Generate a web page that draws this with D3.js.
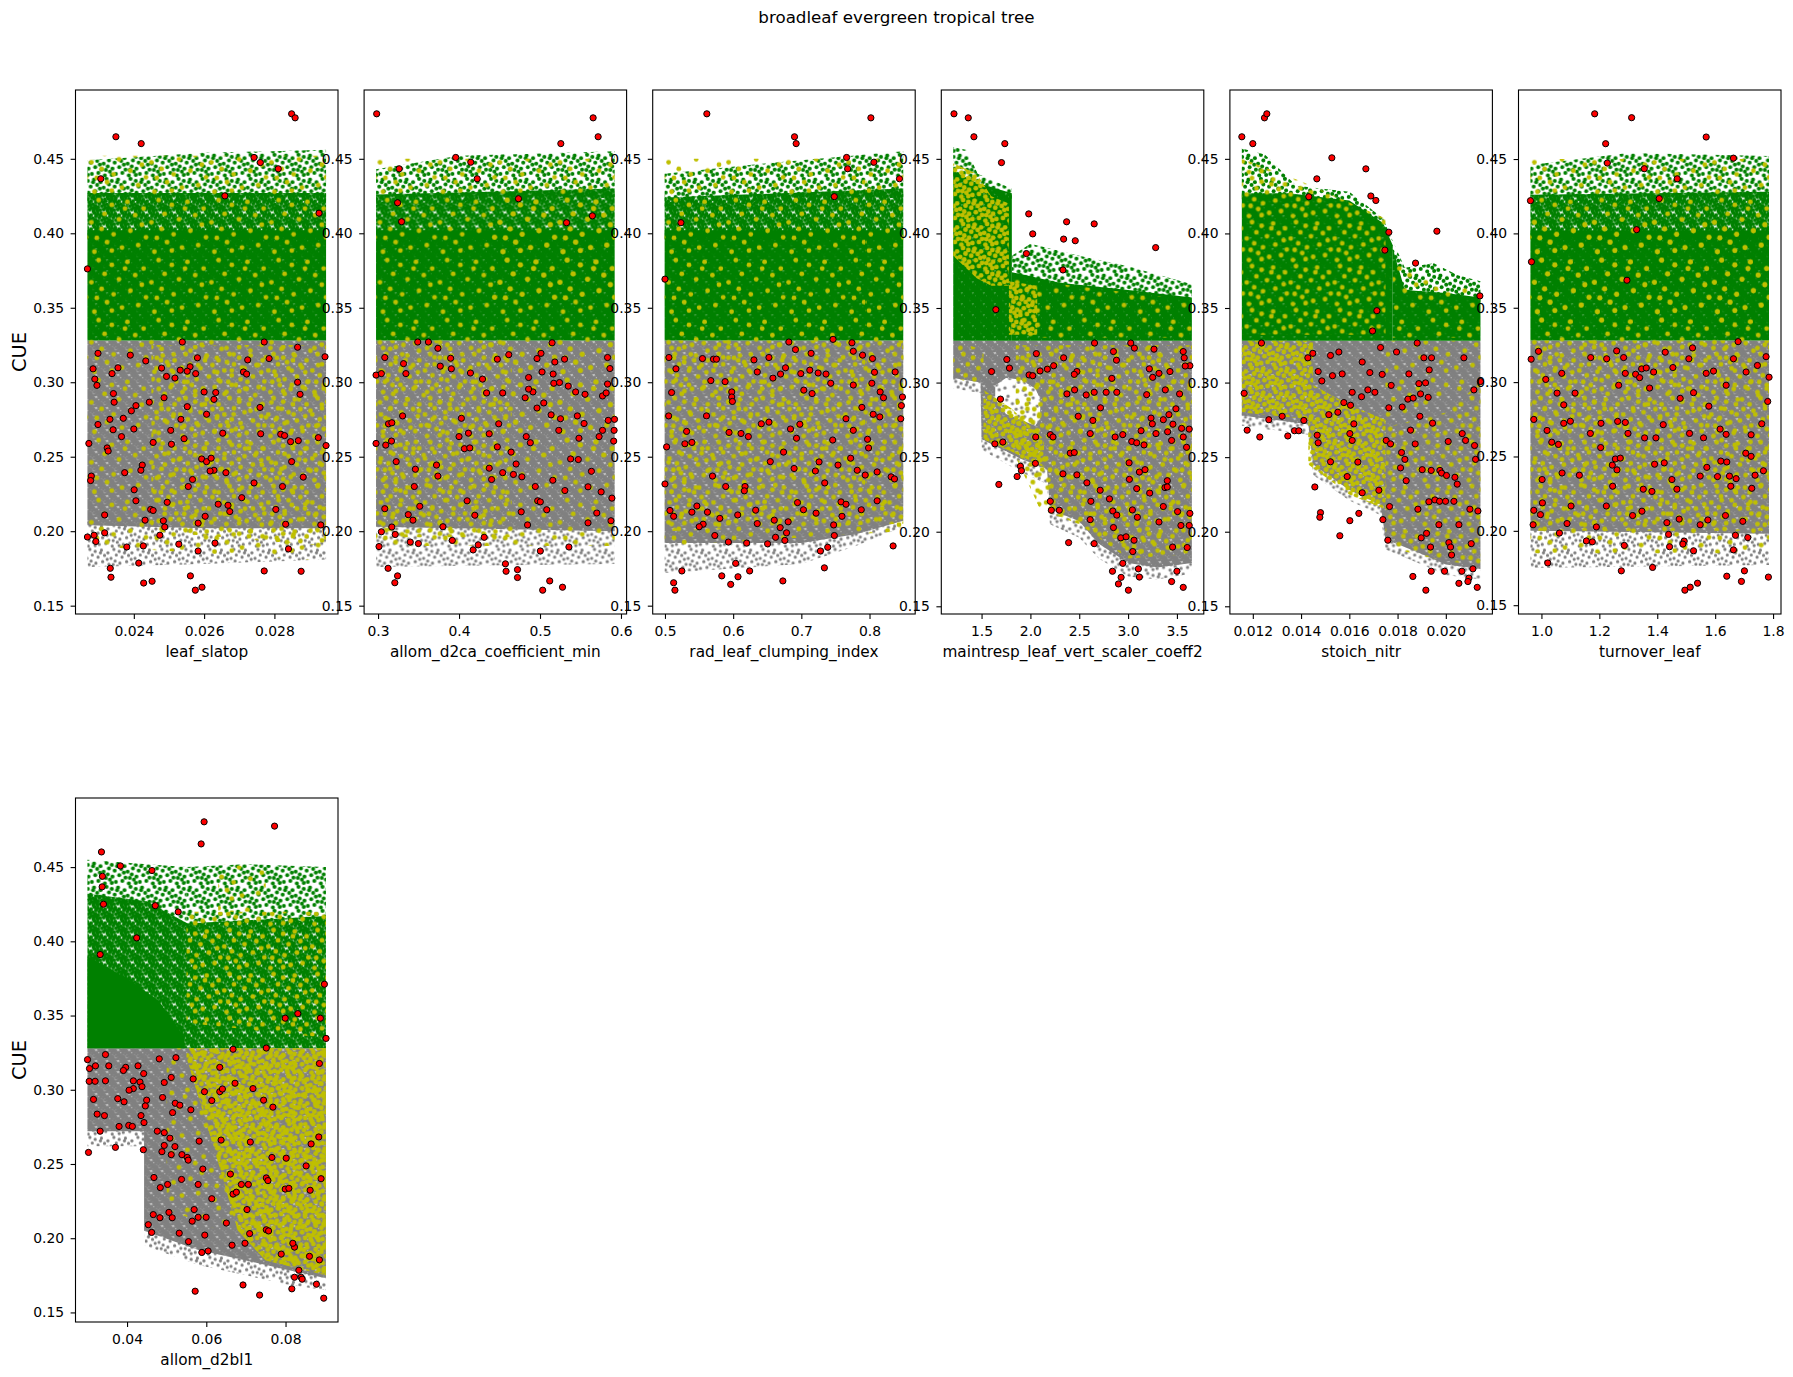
<!DOCTYPE html>
<html>
<head>
<meta charset="utf-8">
<script src="https://cdnjs.cloudflare.com/ajax/libs/d3/7.8.5/d3.min.js"></script>
<style>
  body { margin: 0; background: #fff; }
  svg text { font-family: "DejaVu Sans", sans-serif; }
</style>
</head>
<body>
<svg id="chart" width="1793" height="1377"></svg>
<script>
// ---- labels / ticks
var figTitle = "broadleaf evergreen tropical tree";
var xLabels = ["leaf_slatop", "allom_d2ca_coefficient_min", "rad_leaf_clumping_index",
  "maintresp_leaf_vert_scaler_coeff2", "stoich_nitr", "turnover_leaf", "allom_d2bl1"];
var cueTicks = ["0.15", "0.20", "0.25", "0.30", "0.35", "0.40", "0.45"];
var p1Ticks = ["0.024", "0.026", "0.028"];
var p2Ticks = ["0.3", "0.4", "0.5", "0.6"];
var p3Ticks = ["0.5", "0.6", "0.7", "0.8"];
var p4Ticks = ["1.5", "2.0", "2.5", "3.0", "3.5"];
var p5Ticks = ["0.012", "0.014", "0.016", "0.018", "0.020"];
var p6Ticks = ["1.0", "1.2", "1.4", "1.6", "1.8"];
var p7Ticks = ["0.04", "0.06", "0.08"];

// ---- point clouds, read off as bands: [param, CUE low, CUE high]
// leaf_slatop
var p1GreyFringe = [[0.02268,0.176,0.206],[0.02600,0.178,0.204],[0.02947,0.181,0.204]];
var p1GreyCore = [[0.02268,0.204,0.328],[0.02600,0.202,0.328],[0.02947,0.202,0.328]];
var p1GreenCore = [[0.02268,0.328,0.402],[0.02947,0.328,0.402]];
var p1GreenMid = [[0.02268,0.396,0.427],[0.02947,0.396,0.427]];
var p1GreenFringe = [[0.02268,0.421,0.449],[0.02600,0.421,0.454],[0.02947,0.421,0.456]];
var p1YellowAll = [[0.02268,0.190,0.452],[0.02947,0.180,0.452]];
var p1YellowRight = [[0.02450,0.200,0.325],[0.02947,0.190,0.325]];
// allom_d2ca_coefficient_min
var p2GreyFringe = [[0.2975,0.176,0.205],[0.5922,0.178,0.202]];
var p2GreyCore = [[0.2975,0.203,0.328],[0.5922,0.200,0.328]];
var p2GreenCore = [[0.2975,0.328,0.402],[0.5922,0.328,0.402]];
var p2GreenMid = [[0.2975,0.396,0.426],[0.5922,0.396,0.430]];
var p2GreenFringe = [[0.2975,0.420,0.443],[0.40,0.420,0.452],[0.5922,0.424,0.455]];
var p2YellowAll = [[0.2975,0.190,0.450],[0.5922,0.190,0.450]];
var p2YellowLeft = [[0.2975,0.196,0.328],[0.465,0.196,0.328]];
var p2YellowRight = [[0.465,0.250,0.328],[0.5922,0.250,0.328]];
var p2YellowGreenR = [[0.44,0.355,0.425],[0.5922,0.355,0.425]];
// rad_leaf_clumping_index
var p3GreyFringe = [[0.4995,0.172,0.194],[0.70,0.178,0.194],[0.78,0.190,0.200],[0.8495,0.203,0.209]];
var p3GreyCore = [[0.4995,0.192,0.328],[0.70,0.192,0.328],[0.78,0.198,0.328],[0.8495,0.207,0.328]];
var p3GreenCore = [[0.4995,0.328,0.402],[0.8495,0.328,0.402]];
var p3GreenMid = [[0.4995,0.396,0.424],[0.8495,0.396,0.430]];
var p3GreenFringe = [[0.4995,0.418,0.440],[0.65,0.420,0.447],[0.8495,0.424,0.455]];
var p3YellowAll = [[0.4995,0.190,0.450],[0.8495,0.200,0.450]];
var p3YellowGrey = [[0.4995,0.200,0.328],[0.8495,0.205,0.328]];
// maintresp_leaf_vert_scaler_coeff2
var p4GreyFringe = [[1.21,0.296,0.305],[1.49,0.293,0.302],[1.50,0.255,0.264],[1.90,0.240,0.251],[2.17,0.232,0.244],
  [2.20,0.205,0.217],[2.50,0.196,0.209],[2.70,0.182,0.194],[3.00,0.170,0.181],[3.30,0.168,0.178],[3.653,0.172,0.181]];
var p4GreyCore = [[1.21,0.303,0.328],[1.49,0.300,0.328],[1.50,0.262,0.328],[1.90,0.249,0.328],[2.17,0.242,0.328],
  [2.20,0.215,0.328],[2.50,0.207,0.328],[2.70,0.192,0.328],[3.00,0.179,0.328],[3.30,0.176,0.328],[3.653,0.179,0.328]];
var p4Hole = [[1.64,0.289,0.298],[1.75,0.279,0.303],[1.90,0.275,0.302],[2.05,0.271,0.296],[2.10,0.276,0.289]];
var p4GreenCoreL = [[1.21,0.328,0.442],[1.45,0.328,0.434],[1.81,0.328,0.427]];
var p4GreenFringeL = [[1.21,0.438,0.458],[1.35,0.438,0.456],[1.46,0.430,0.440],[1.81,0.423,0.430]];
var p4GreenCoreR = [[1.81,0.328,0.374],[2.30,0.328,0.367],[3.00,0.328,0.362],[3.653,0.328,0.357]];
var p4GreenFringeR = [[1.81,0.370,0.385],[2.00,0.363,0.393],[2.50,0.363,0.385],[3.00,0.358,0.378],[3.653,0.353,0.366]];
var p4YellowL = [[1.21,0.385,0.447],[1.45,0.370,0.440],[1.60,0.365,0.425],[1.78,0.365,0.420]];
var p4YellowBlob = [[1.78,0.332,0.368],[2.07,0.332,0.365]];
var p4YellowTopGrey = [[1.21,0.303,0.328],[1.52,0.298,0.322]];
var p4YellowDiag = [[1.52,0.262,0.295],[1.80,0.254,0.283],[2.14,0.243,0.262]];
var p4YellowMain = [[1.85,0.250,0.325],[2.10,0.215,0.325],[2.50,0.205,0.325],[3.00,0.182,0.325],[3.653,0.185,0.325]];
var p4YellowGreenR = [[1.81,0.330,0.370],[3.653,0.330,0.355]];
// stoich_nitr
var p5GreyFringe = [[0.011545,0.271,0.280],[0.0143,0.265,0.274],[0.0145,0.238,0.247],[0.0160,0.221,0.230],[0.0173,0.211,0.220],
  [0.0175,0.188,0.197],[0.0190,0.178,0.187],[0.0200,0.171,0.180],[0.021436,0.168,0.177]];
var p5GreyCore = [[0.011545,0.278,0.328],[0.0143,0.272,0.328],[0.0145,0.245,0.328],[0.0160,0.228,0.328],[0.0173,0.218,0.328],
  [0.0175,0.195,0.328],[0.0190,0.185,0.328],[0.0200,0.178,0.328],[0.021436,0.175,0.328]];
var p5GreenCoreL = [[0.011545,0.328,0.427],[0.0135,0.328,0.427],[0.0160,0.328,0.422],[0.0174,0.328,0.407],[0.0178,0.328,0.392]];
var p5GreenFringeL = [[0.011545,0.423,0.457],[0.0125,0.423,0.453],[0.0138,0.423,0.432],[0.0160,0.418,0.428],[0.0174,0.403,0.410],[0.0178,0.388,0.395]];
var p5GreenCoreR = [[0.0178,0.328,0.390],[0.0183,0.328,0.362],[0.0200,0.328,0.360],[0.021436,0.328,0.357]];
var p5GreenFringeR = [[0.0178,0.388,0.395],[0.0183,0.358,0.377],[0.0195,0.356,0.380],[0.0205,0.356,0.372],[0.021436,0.353,0.368]];
var p5YellowGreenL = [[0.011545,0.332,0.450],[0.0140,0.332,0.435],[0.0175,0.332,0.410]];
var p5YellowGreyL = [[0.011545,0.280,0.328],[0.0145,0.275,0.328]];
var p5YellowDiag = [[0.0143,0.245,0.300],[0.0160,0.225,0.285],[0.0175,0.215,0.275]];
var p5YellowR = [[0.0175,0.190,0.270],[0.0200,0.180,0.280],[0.021436,0.178,0.300]];
var p5YellowRTop = [[0.0175,0.270,0.328],[0.021436,0.300,0.328]];
var p5YellowGreenR = [[0.0178,0.330,0.380],[0.021436,0.330,0.360]];
// turnover_leaf
var p6GreyFringe = [[0.962,0.175,0.202],[1.786,0.177,0.200]];
var p6GreyCore = [[0.962,0.200,0.328],[1.786,0.198,0.328]];
var p6GreenCore = [[0.962,0.328,0.402],[1.786,0.328,0.402]];
var p6GreenMid = [[0.962,0.396,0.426],[1.786,0.396,0.428]];
var p6GreenFringe = [[0.962,0.420,0.446],[1.30,0.420,0.454],[1.786,0.422,0.452]];
var p6YellowAll = [[0.962,0.185,0.450],[1.786,0.185,0.450]];
var p6YellowGrey = [[0.962,0.200,0.328],[1.786,0.200,0.328]];
var p6YellowGreenMid = [[0.962,0.340,0.410],[1.786,0.340,0.410]];
// allom_d2bl1
var p7GreyFringeL = [[0.0300,0.262,0.274],[0.0445,0.262,0.274]];
var p7GreyCoreL = [[0.0300,0.272,0.328],[0.0445,0.272,0.328]];
var p7GreyFringeR = [[0.0445,0.195,0.207],[0.058,0.182,0.194],[0.070,0.175,0.187],[0.080,0.169,0.181],[0.0902,0.165,0.175]];
var p7GreyCoreR = [[0.0443,0.205,0.328],[0.058,0.192,0.328],[0.070,0.185,0.328],[0.080,0.179,0.328],[0.0902,0.173,0.328]];
var p7GreenCoreL = [[0.0300,0.328,0.432],[0.045,0.328,0.427],[0.0553,0.328,0.412]];
var p7GreenSolid = [[0.0300,0.328,0.390],[0.040,0.328,0.375],[0.048,0.328,0.360],[0.0545,0.328,0.335]];
var p7GreenFringeL = [[0.0300,0.428,0.455],[0.045,0.423,0.452],[0.055,0.408,0.450]];
var p7GreenR = [[0.055,0.328,0.412],[0.0902,0.328,0.417]];
var p7GreenFringeR = [[0.055,0.408,0.450],[0.070,0.413,0.452],[0.0902,0.413,0.450]];
var p7YellowGreen = [[0.055,0.345,0.420],[0.0902,0.335,0.420]];
var p7YellowGreenTop = [[0.063,0.420,0.452],[0.075,0.420,0.450]];
var p7YellowGrey = [[0.055,0.322,0.328],[0.062,0.260,0.328],[0.068,0.205,0.328],[0.075,0.185,0.328],[0.0902,0.175,0.328]];
var p7YellowGreyLow = [[0.050,0.220,0.328],[0.0902,0.175,0.328]];

// ---- red (flagged) runs: [param, CUE]
var p1Red = [[0.02349,0.4648],[0.02421,0.4602],[0.02849,0.4802],[0.02859,0.4775],[0.02306,0.4366],[0.02742,0.4509],[0.02760,0.4475],[0.02811,0.4433],[0.02659,0.4251],[0.02268,0.3761],[0.02927,0.4135],[0.02538,0.3270],[0.02771,0.3270],[0.02866,0.3235],[0.02944,0.3171],[0.02298,0.3194],[0.02390,0.3182],[0.02434,0.3143],[0.02355,0.3097],[0.02284,0.3090],[0.02338,0.3058],[0.02289,0.3021],[0.02295,0.2979],[0.02342,0.2924],[0.02344,0.2866],[0.02479,0.3095],[0.02493,0.3039],[0.02517,0.3028],[0.02532,0.3081],[0.02560,0.3104],[0.02576,0.3058],[0.02581,0.3164],[0.02552,0.3074],[0.02486,0.2896],[0.02444,0.2866],[0.02552,0.2836],[0.02600,0.2935],[0.02633,0.2931],[0.02628,0.2885],[0.02607,0.2785],[0.02724,0.3150],[0.02712,0.3069],[0.02721,0.3055],[0.02785,0.3159],[0.02866,0.3000],[0.02873,0.2919],[0.02759,0.2831],[0.02406,0.2843],[0.02393,0.2808],[0.02298,0.2716],[0.02332,0.2751],[0.02370,0.2758],[0.02341,0.2681],[0.02365,0.2635],[0.02400,0.2686],[0.02272,0.2589],[0.02324,0.2559],[0.02327,0.2538],[0.02455,0.2596],[0.02505,0.2677],[0.02507,0.2584],[0.02543,0.2621],[0.02534,0.2751],[0.02653,0.2658],[0.02761,0.2654],[0.02818,0.2651],[0.02829,0.2642],[0.02846,0.2601],[0.02868,0.2608],[0.02925,0.2628],[0.02947,0.2575],[0.02593,0.2485],[0.02607,0.2467],[0.02620,0.2490],[0.02628,0.2409],[0.02617,0.2404],[0.02424,0.2444],[0.02420,0.2409],[0.02374,0.2393],[0.02279,0.2370],[0.02277,0.2340],[0.02401,0.2278],[0.02406,0.2204],[0.02567,0.2347],[0.02555,0.2300],[0.02662,0.2393],[0.02668,0.2174],[0.02673,0.2132],[0.02640,0.2181],[0.02707,0.2225],[0.02742,0.2324],[0.02823,0.2300],[0.02849,0.2467],[0.02882,0.2363],[0.02804,0.2146],[0.02832,0.2047],[0.02932,0.2042],[0.02840,0.1881],[0.02876,0.1731],[0.02771,0.1733],[0.02448,0.2146],[0.02455,0.2139],[0.02432,0.2074],[0.02484,0.2070],[0.02488,0.2028],[0.02474,0.1973],[0.02495,0.2194],[0.02317,0.2109],[0.02317,0.1989],[0.02268,0.1961],[0.02287,0.1973],[0.02292,0.1931],[0.02380,0.1894],[0.02427,0.1901],[0.02528,0.1913],[0.02583,0.2054],[0.02603,0.2100],[0.02631,0.1920],[0.02583,0.1867],[0.02333,0.1751],[0.02335,0.1691],[0.02414,0.1786],[0.02428,0.1652],[0.02452,0.1664],[0.02561,0.1700],[0.02575,0.1604],[0.02594,0.1624]];
var p2Red = [[0.2983,0.4802],[0.5656,0.4775],[0.5718,0.4648],[0.5257,0.4602],[0.3959,0.4509],[0.4145,0.4477],[0.4224,0.4366],[0.3261,0.4433],[0.3241,0.4205],[0.4734,0.4232],[0.3290,0.4078],[0.5328,0.4071],[0.5647,0.4117],[0.3490,0.3270],[0.3622,0.3270],[0.3739,0.3228],[0.5149,0.3265],[0.3083,0.3166],[0.3315,0.3125],[0.2975,0.3048],[0.3041,0.3058],[0.3344,0.3058],[0.3768,0.3108],[0.3896,0.3161],[0.3905,0.3090],[0.4141,0.3062],[0.4290,0.3021],[0.4340,0.2928],[0.4473,0.3155],[0.4614,0.3185],[0.4859,0.3032],[0.4963,0.3159],[0.5012,0.3194],[0.5025,0.3069],[0.5183,0.3136],[0.5303,0.3155],[0.5162,0.3055],[0.5170,0.2993],[0.5241,0.2998],[0.5349,0.2974],[0.5440,0.2935],[0.5556,0.2919],[0.5772,0.2908],[0.5834,0.3166],[0.5863,0.3092],[0.5834,0.2988],[0.5817,0.2928],[0.4539,0.2928],[0.4913,0.2935],[0.4859,0.2954],[0.4817,0.2896],[0.4963,0.2827],[0.5046,0.2861],[0.5137,0.2781],[0.5253,0.2755],[0.5232,0.2677],[0.5461,0.2774],[0.5544,0.2723],[0.5842,0.2744],[0.5920,0.2751],[0.5772,0.2677],[0.5915,0.2677],[0.5730,0.2635],[0.5910,0.2605],[0.5481,0.2624],[0.4830,0.2635],[0.4880,0.2594],[0.4643,0.2531],[0.4705,0.2451],[0.4373,0.2423],[0.4539,0.2393],[0.4672,0.2381],[0.4402,0.2347],[0.4776,0.2365],[0.4942,0.2300],[0.4971,0.2204],[0.5004,0.2197],[0.5083,0.2144],[0.5158,0.2342],[0.5307,0.2273],[0.5378,0.2485],[0.5473,0.2481],[0.5635,0.2402],[0.5593,0.2298],[0.5755,0.2264],[0.5888,0.2222],[0.5701,0.2122],[0.5876,0.2070],[0.5593,0.2056],[0.4768,0.2130],[0.4846,0.2042],[0.5004,0.1867],[0.5357,0.1894],[0.4722,0.1742],[0.4722,0.1689],[0.4573,0.1781],[0.4581,0.1731],[0.5033,0.1604],[0.5120,0.1666],[0.5278,0.1624],[0.4029,0.2758],[0.4116,0.2658],[0.4000,0.2635],[0.4373,0.2654],[0.4490,0.2721],[0.4473,0.2566],[0.3303,0.2774],[0.3129,0.2721],[0.3170,0.2728],[0.3166,0.2605],[0.3095,0.2578],[0.2975,0.2589],[0.3224,0.2467],[0.3461,0.2416],[0.3448,0.2300],[0.3515,0.2167],[0.3373,0.2111],[0.3431,0.2074],[0.3083,0.2151],[0.3170,0.2028],[0.3212,0.1978],[0.3041,0.1996],[0.3012,0.1897],[0.3398,0.1927],[0.3498,0.1917],[0.3801,0.2030],[0.3917,0.1938],[0.4100,0.2204],[0.4195,0.2107],[0.4174,0.1874],[0.4237,0.1908],[0.4311,0.1959],[0.3124,0.1751],[0.3241,0.1700],[0.3207,0.1654],[0.3739,0.2370],[0.3722,0.2444],[0.4066,0.2554],[0.4133,0.2559]];
var p3Red = [[0.5614,0.4802],[0.8020,0.4775],[0.6900,0.4648],[0.6924,0.4602],[0.7664,0.4509],[0.7679,0.4433],[0.8064,0.4477],[0.8439,0.4366],[0.7484,0.4246],[0.5234,0.4071],[0.5000,0.3692],[0.5058,0.3166],[0.5161,0.3090],[0.5550,0.3159],[0.5711,0.3155],[0.5755,0.3155],[0.5672,0.3011],[0.5882,0.3004],[0.5097,0.2931],[0.5979,0.2935],[0.5979,0.2901],[0.5989,0.2871],[0.6305,0.3150],[0.6525,0.3166],[0.6354,0.3069],[0.6583,0.3028],[0.6695,0.3055],[0.6768,0.3097],[0.6817,0.3270],[0.6914,0.3219],[0.6992,0.3058],[0.7143,0.3194],[0.7124,0.3081],[0.7246,0.3062],[0.7362,0.3055],[0.7431,0.2993],[0.7158,0.2924],[0.7036,0.2947],[0.7465,0.3288],[0.7742,0.3265],[0.7762,0.3208],[0.7898,0.3182],[0.8044,0.3159],[0.8073,0.3067],[0.8376,0.3069],[0.7762,0.2981],[0.8034,0.2993],[0.8156,0.2935],[0.8205,0.2896],[0.8483,0.2901],[0.8468,0.2843],[0.8458,0.2755],[0.8054,0.2785],[0.8151,0.2767],[0.7655,0.2755],[0.7888,0.2831],[0.7762,0.2677],[0.7460,0.2612],[0.7971,0.2617],[0.7986,0.2559],[0.7723,0.2490],[0.7820,0.2409],[0.7937,0.2377],[0.8112,0.2398],[0.8317,0.2365],[0.8366,0.2351],[0.8112,0.2204],[0.5054,0.2774],[0.5024,0.2566],[0.5292,0.2587],[0.5395,0.2596],[0.5317,0.2670],[0.5609,0.2774],[0.5940,0.2663],[0.6115,0.2656],[0.6223,0.2635],[0.6413,0.2721],[0.6525,0.2732],[0.6841,0.2686],[0.6929,0.2624],[0.6978,0.2718],[0.6739,0.2531],[0.6545,0.2467],[0.6894,0.2421],[0.7206,0.2404],[0.7260,0.2465],[0.7343,0.2324],[0.7538,0.2444],[0.5891,0.2300],[0.6174,0.2300],[0.6164,0.2271],[0.5697,0.2370],[0.5000,0.2317],[0.5073,0.2139],[0.5127,0.2100],[0.5468,0.2169],[0.5395,0.2128],[0.5623,0.2128],[0.5560,0.2047],[0.5502,0.2030],[0.5804,0.2086],[0.6067,0.2109],[0.6330,0.2141],[0.6354,0.2051],[0.6603,0.2074],[0.6807,0.2063],[0.6944,0.2192],[0.7031,0.2144],[0.7216,0.2121],[0.7582,0.2197],[0.7655,0.2181],[0.7596,0.2100],[0.7474,0.2042],[0.7484,0.1971],[0.7879,0.2144],[0.5731,0.1971],[0.5930,0.1927],[0.6198,0.1920],[0.6622,0.1959],[0.6690,0.2024],[0.6758,0.1938],[0.6783,0.1989],[0.6505,0.1915],[0.7280,0.1867],[0.7387,0.1892],[0.8346,0.1901],[0.7338,0.1754],[0.6037,0.1784],[0.6242,0.1733],[0.5248,0.1733],[0.5127,0.1654],[0.5146,0.1604],[0.5833,0.1700],[0.5964,0.1643],[0.6071,0.1694],[0.6729,0.1666]];
var p4Red = [[1.2177,0.4802],[1.3639,0.4775],[1.4218,0.4648],[1.7381,0.4602],[1.7041,0.4475],[1.9830,0.4131],[2.0238,0.3997],[2.3707,0.4078],[2.6531,0.4064],[2.3401,0.3962],[2.4592,0.3951],[3.2823,0.3905],[1.9592,0.3865],[2.3333,0.3755],[1.6463,0.3489],[2.6565,0.3265],[3.0272,0.3265],[3.0646,0.3231],[2.0612,0.3194],[1.7585,0.3155],[2.3401,0.3166],[2.8503,0.3208],[3.2653,0.3224],[3.5646,0.3208],[3.5748,0.3166],[3.6327,0.3113],[3.5850,0.3111],[1.7857,0.3097],[1.6020,0.3074],[1.9864,0.3051],[2.0238,0.3046],[2.0986,0.3078],[2.2381,0.3113],[2.1735,0.3090],[2.4762,0.3074],[2.4490,0.3055],[2.8333,0.3028],[2.8810,0.3150],[3.2177,0.3092],[3.3163,0.3062],[3.4286,0.3074],[3.2517,0.3035],[2.3741,0.2924],[2.4524,0.2951],[2.5714,0.2917],[2.6531,0.2935],[2.7755,0.2935],[2.8844,0.2935],[3.1905,0.2919],[3.3810,0.2951],[3.5272,0.2924],[1.6939,0.2889],[2.7177,0.2831],[3.4898,0.2824],[2.4898,0.2774],[2.6395,0.2746],[3.2347,0.2762],[3.4184,0.2785],[3.3605,0.2751],[3.2483,0.2723],[3.4592,0.2721],[3.5476,0.2693],[3.4048,0.2670],[3.2857,0.2658],[3.1327,0.2677],[3.5646,0.2635],[2.6122,0.2658],[2.8673,0.2635],[2.9456,0.2651],[3.0374,0.2605],[3.0884,0.2596],[3.1633,0.2582],[3.4456,0.2612],[3.5986,0.2566],[3.6259,0.2688],[1.6361,0.2589],[1.7177,0.2601],[2.0544,0.2635],[2.2041,0.2651],[2.2313,0.2635],[2.4082,0.2527],[2.4490,0.2531],[1.8980,0.2439],[1.9082,0.2409],[1.8639,0.2370],[1.6769,0.2317],[2.0510,0.2458],[2.3333,0.2388],[2.4762,0.2381],[2.5782,0.2328],[2.7143,0.2278],[2.8095,0.2220],[2.6190,0.2204],[2.8435,0.2139],[2.8844,0.2111],[3.0102,0.2462],[3.1156,0.2400],[3.1735,0.2416],[3.0136,0.2351],[3.0884,0.2289],[3.2211,0.2259],[3.3776,0.2296],[3.3605,0.2169],[3.4014,0.2342],[3.5068,0.2135],[3.6327,0.2123],[3.6259,0.2042],[3.5408,0.2042],[3.3163,0.2065],[3.0442,0.2146],[3.0952,0.2097],[2.8503,0.2028],[2.9252,0.1959],[2.9796,0.1966],[3.0612,0.1943],[3.0476,0.1867],[2.2041,0.2204],[2.2143,0.2144],[2.2959,0.2144],[2.3912,0.1927],[2.6122,0.2081],[2.6531,0.1920],[2.9456,0.1788],[2.8401,0.1735],[2.9286,0.1694],[2.9014,0.1650],[3.0034,0.1608],[3.1054,0.1751],[3.1156,0.1696],[3.4456,0.1666],[3.5000,0.1735],[3.5646,0.1627],[3.4558,0.1897],[3.6054,0.1894],[3.4014,0.2300]];
var p5Red = [[0.011545,0.4648],[0.012000,0.4602],[0.012484,0.4775],[0.012581,0.4802],[0.015276,0.4507],[0.016686,0.4433],[0.014654,0.4366],[0.014322,0.4246],[0.016893,0.4251],[0.017100,0.4221],[0.017639,0.4008],[0.019630,0.4015],[0.017473,0.3888],[0.018745,0.3801],[0.021412,0.3581],[0.017142,0.3482],[0.016962,0.3346],[0.012359,0.3265],[0.014488,0.3196],[0.014281,0.3166],[0.015220,0.3182],[0.015566,0.3205],[0.017294,0.3235],[0.017957,0.3205],[0.018814,0.3265],[0.019090,0.3166],[0.019408,0.3166],[0.019312,0.3085],[0.020749,0.3166],[0.016534,0.3138],[0.014709,0.3074],[0.014861,0.3011],[0.015303,0.3046],[0.015704,0.3058],[0.016851,0.3067],[0.017363,0.3055],[0.018469,0.3058],[0.018883,0.2993],[0.019159,0.2998],[0.021436,0.3007],[0.017736,0.2981],[0.016119,0.2935],[0.016506,0.2905],[0.016769,0.2951],[0.017059,0.2935],[0.015773,0.2866],[0.016050,0.2848],[0.018427,0.2889],[0.018648,0.2896],[0.018952,0.2924],[0.019270,0.2901],[0.021164,0.2951],[0.017639,0.2831],[0.018192,0.2836],[0.011641,0.2928],[0.012663,0.2751],[0.011765,0.2681],[0.012290,0.2635],[0.013451,0.2642],[0.013728,0.2677],[0.013907,0.2677],[0.014115,0.2746],[0.013216,0.2774],[0.015151,0.2785],[0.015525,0.2801],[0.016188,0.2723],[0.016022,0.2658],[0.014668,0.2647],[0.014709,0.2596],[0.016119,0.2612],[0.015220,0.2469],[0.016354,0.2467],[0.017528,0.2612],[0.017708,0.2589],[0.018165,0.2531],[0.018303,0.2485],[0.018538,0.2681],[0.018731,0.2589],[0.018925,0.2774],[0.019450,0.2728],[0.020099,0.2605],[0.020680,0.2658],[0.020818,0.2612],[0.021191,0.2578],[0.021233,0.2485],[0.018123,0.2428],[0.018358,0.2342],[0.019021,0.2416],[0.019394,0.2411],[0.019754,0.2411],[0.019823,0.2393],[0.020030,0.2377],[0.020376,0.2365],[0.020473,0.2319],[0.015912,0.2370],[0.016534,0.2261],[0.017225,0.2278],[0.014571,0.2300],[0.014806,0.2128],[0.014778,0.2097],[0.016022,0.2074],[0.016395,0.2123],[0.017391,0.2081],[0.017667,0.2169],[0.015607,0.1973],[0.017598,0.1943],[0.018842,0.2151],[0.019298,0.2201],[0.019547,0.2213],[0.019740,0.2204],[0.019989,0.2204],[0.020335,0.2204],[0.018980,0.1959],[0.019201,0.1989],[0.019366,0.1897],[0.019713,0.2047],[0.020127,0.1927],[0.020196,0.1897],[0.020238,0.1844],[0.020542,0.2047],[0.020998,0.2151],[0.021330,0.2139],[0.021053,0.1920],[0.021122,0.1751],[0.020957,0.1689],[0.020915,0.1666],[0.020542,0.1654],[0.021302,0.1627],[0.019948,0.1735],[0.019394,0.1735],[0.018634,0.1700],[0.019173,0.1608],[0.020666,0.1735]];
var p6Red = [[1.1839,0.4804],[1.3115,0.4778],[1.5690,0.4648],[1.2218,0.4603],[1.2276,0.4473],[1.3552,0.4435],[1.4690,0.4367],[1.4069,0.4234],[1.6632,0.4506],[0.9621,0.4220],[1.3287,0.4025],[1.2954,0.3685],[0.9655,0.3809],[0.9644,0.3154],[0.9897,0.3207],[1.0149,0.3018],[1.0701,0.3059],[1.0540,0.2926],[1.1161,0.2926],[1.0770,0.2847],[1.1701,0.3165],[1.2253,0.3157],[1.2598,0.3210],[1.2839,0.3165],[1.2667,0.2979],[1.2897,0.3059],[1.3253,0.3053],[1.3460,0.3089],[1.3621,0.3095],[1.3874,0.3068],[1.3391,0.3030],[1.3736,0.2960],[1.4276,0.3201],[1.4540,0.3098],[1.5218,0.3230],[1.5092,0.3157],[1.5253,0.2929],[1.5690,0.3059],[1.5943,0.3074],[1.6379,0.2979],[1.6632,0.3157],[1.6793,0.3272],[1.7069,0.3068],[1.7460,0.3112],[1.7759,0.3171],[1.7862,0.3033],[1.4793,0.2891],[1.5782,0.2838],[1.7816,0.2870],[0.9736,0.2749],[1.0195,0.2675],[1.0356,0.2596],[1.0586,0.2581],[1.0770,0.2723],[1.1000,0.2737],[1.1690,0.2655],[1.2057,0.2723],[1.2046,0.2560],[1.2632,0.2736],[1.2897,0.2729],[1.2448,0.2442],[1.2552,0.2483],[1.2724,0.2489],[1.2609,0.2410],[1.3563,0.2625],[1.3954,0.2625],[1.4207,0.2714],[1.3908,0.2448],[1.3517,0.2280],[1.3816,0.2265],[1.2460,0.2300],[1.1310,0.2374],[1.0713,0.2389],[1.0023,0.2345],[1.0034,0.2188],[0.9736,0.2138],[0.9966,0.2109],[0.9713,0.2041],[1.0621,0.1985],[1.0885,0.2049],[1.1023,0.2167],[1.0218,0.1784],[1.1552,0.1932],[1.1759,0.1926],[1.1897,0.2026],[1.3149,0.2103],[1.2241,0.2167],[1.2862,0.1902],[1.2759,0.1731],[1.3839,0.1754],[1.3471,0.2132],[1.4333,0.2055],[1.4391,0.1976],[1.4425,0.1893],[1.4759,0.2079],[1.4931,0.1931],[1.4885,0.1911],[1.5253,0.1866],[1.5483,0.2041],[1.5747,0.2073],[1.4954,0.1601],[1.5138,0.1621],[1.5391,0.1648],[1.6402,0.1695],[1.6908,0.1660],[1.7011,0.1731],[1.7839,0.1689],[1.6632,0.1872],[1.6701,0.1970],[1.6356,0.2103],[1.6954,0.2064],[1.7126,0.1955],[1.6172,0.2684],[1.6379,0.2649],[1.5115,0.2655],[1.5598,0.2625],[1.6195,0.2469],[1.6402,0.2463],[1.6494,0.2368],[1.6080,0.2365],[1.6724,0.2351],[1.6540,0.2300],[1.7057,0.2522],[1.7241,0.2501],[1.7241,0.2646],[1.7609,0.2720],[1.7379,0.2374],[1.7264,0.2286],[1.7667,0.2404],[1.5713,0.2427],[1.5483,0.2368],[1.4678,0.2280],[1.4241,0.2457],[1.4506,0.2345],[1.2989,0.2655]];
var p7Red = [[0.05945,0.4805],[0.07723,0.4776],[0.05870,0.4656],[0.03354,0.4602],[0.03832,0.4508],[0.04629,0.4477],[0.03379,0.4438],[0.03371,0.4367],[0.03405,0.4250],[0.04713,0.4240],[0.05291,0.4198],[0.04243,0.4023],[0.03321,0.3911],[0.08981,0.3711],[0.07992,0.3482],[0.08310,0.3513],[0.08880,0.3482],[0.09023,0.3346],[0.03002,0.3203],[0.04813,0.3208],[0.05233,0.3216],[0.03455,0.3237],[0.03203,0.3161],[0.03052,0.3143],[0.03539,0.3161],[0.03966,0.3151],[0.03908,0.3130],[0.04277,0.3161],[0.04419,0.3109],[0.03044,0.3057],[0.03195,0.3057],[0.03455,0.3060],[0.04159,0.3060],[0.04327,0.3052],[0.04377,0.3021],[0.04159,0.3008],[0.04050,0.2997],[0.03153,0.2935],[0.03765,0.2940],[0.03925,0.2919],[0.04939,0.3049],[0.05115,0.3083],[0.04897,0.2948],[0.05216,0.2909],[0.05333,0.2896],[0.05669,0.3073],[0.04495,0.2930],[0.04461,0.2891],[0.03245,0.2836],[0.03430,0.2826],[0.04352,0.2826],[0.05149,0.2846],[0.05610,0.2865],[0.04428,0.2779],[0.03321,0.2721],[0.03799,0.2753],[0.04042,0.2760],[0.04134,0.2753],[0.04763,0.2721],[0.04939,0.2711],[0.05082,0.2674],[0.04939,0.2625],[0.05208,0.2617],[0.04880,0.2583],[0.05115,0.2563],[0.05384,0.2563],[0.05518,0.2544],[0.05543,0.2526],[0.05820,0.2654],[0.03707,0.2612],[0.03027,0.2578],[0.04411,0.2596],[0.04679,0.2409],[0.04839,0.2341],[0.05023,0.2362],[0.05375,0.2396],[0.05795,0.2362],[0.05912,0.2466],[0.06138,0.2266],[0.05694,0.2193],[0.04662,0.2159],[0.04830,0.2138],[0.05057,0.2174],[0.05140,0.2138],[0.05795,0.2141],[0.05996,0.2141],[0.05644,0.2115],[0.04537,0.2091],[0.04621,0.2039],[0.05317,0.2034],[0.05962,0.2021],[0.05551,0.1977],[0.05887,0.1904],[0.06046,0.1914],[0.05719,0.1643],[0.06507,0.2102],[0.06650,0.1953],[0.06977,0.1966],[0.07094,0.2031],[0.07027,0.2193],[0.06675,0.2297],[0.06885,0.2362],[0.07061,0.2362],[0.06608,0.2432],[0.07514,0.2406],[0.07556,0.2388],[0.07992,0.2331],[0.08084,0.2336],[0.08621,0.2323],[0.08897,0.2401],[0.07514,0.2057],[0.07572,0.2049],[0.07891,0.1893],[0.08226,0.1940],[0.08184,0.1966],[0.08604,0.1878],[0.08855,0.1854],[0.06927,0.1685],[0.07346,0.1617],[0.08159,0.1659],[0.08226,0.1737],[0.08336,0.1784],[0.08394,0.1737],[0.08419,0.1724],[0.08780,0.1690],[0.08964,0.1596],[0.08839,0.2682],[0.08646,0.2635],[0.07656,0.2544],[0.07111,0.2648],[0.06373,0.2661],[0.06340,0.2987],[0.06407,0.3005],[0.06725,0.3044],[0.07681,0.2883],[0.07446,0.2930],[0.07178,0.3008],[0.06138,0.2927],[0.05954,0.2987],[0.06340,0.3151],[0.06675,0.3273],[0.07514,0.3281],[0.08855,0.3177],[0.08520,0.2487],[0.08017,0.2539],[0.06759,0.2310]];

// dot texture used to fill the clouds (unit tile offsets)
var texture = [[0.05,0.12],[0.31,0.07],[0.58,0.18],[0.83,0.04],[0.17,0.36],[0.44,0.29],[0.71,0.41],[0.93,0.27],
  [0.08,0.61],[0.36,0.55],[0.62,0.66],[0.88,0.52],[0.22,0.83],[0.49,0.79],[0.76,0.90],[0.97,0.74],
  [0.27,0.18],[0.55,0.45],[0.05,0.88],[0.80,0.67]];
var dotStyles = {
  greenSolid: {color: "#008000", size: 8, r: 2.1},
  greenDense: {color: "#008000", size: 11, r: 2.0},
  greenMid: {color: "#008000", size: 14, r: 2.0},
  greenSparse: {color: "#008000", size: 24, r: 2.0},
  greyDense: {color: "#808080", size: 11, r: 1.8},
  greySparse: {color: "#808080", size: 24, r: 1.6},
  greyVsparse: {color: "#808080", size: 34, r: 1.6},
  yellowDense: {color: "#bfbf00", size: 24, r: 2.4},
  yellowMid: {color: "#bfbf00", size: 44, r: 2.4},
  yellowSparse: {color: "#bfbf00", size: 60, r: 2.4}
};

var panels = [
  {ticks: p1Ticks, red: p1Red, layers: [[p1GreyFringe,"greySparse"],[p1GreyCore,"greyDense"],[p1GreenMid,"greenMid"],
    [p1GreenFringe,"greenSparse"],[p1GreenCore,"greenDense"],[p1YellowAll,"yellowSparse"],[p1YellowRight,"yellowMid"]]},
  {ticks: p2Ticks, red: p2Red, layers: [[p2GreyFringe,"greySparse"],[p2GreyCore,"greyDense"],[p2GreenMid,"greenMid"],
    [p2GreenFringe,"greenSparse"],[p2GreenCore,"greenDense"],[p2YellowAll,"yellowSparse"],[p2YellowLeft,"yellowMid"],
    [p2YellowRight,"yellowSparse"],[p2YellowGreenR,"yellowSparse"]]},
  {ticks: p3Ticks, red: p3Red, layers: [[p3GreyFringe,"greySparse"],[p3GreyCore,"greyDense"],[p3GreenMid,"greenMid"],
    [p3GreenFringe,"greenSparse"],[p3GreenCore,"greenDense"],[p3YellowAll,"yellowSparse"],[p3YellowGrey,"yellowMid"]]},
  {ticks: p4Ticks, red: p4Red, layers: [[p4GreyFringe,"greySparse"],[p4GreyCore,"greyDense"],[p4Hole,"white"],[p4Hole,"greyVsparse"],
    [p4GreenFringeL,"greenSparse"],[p4GreenCoreL,"greenDense"],[p4GreenFringeR,"greenSparse"],[p4GreenCoreR,"greenDense"],
    [p4YellowL,"yellowDense"],[p4YellowBlob,"yellowDense"],[p4YellowTopGrey,"yellowMid"],[p4YellowDiag,"yellowDense"],
    [p4YellowMain,"yellowMid"],[p4YellowMain,"yellowSparse"],[p4YellowGreenR,"yellowSparse"]]},
  {ticks: p5Ticks, red: p5Red, layers: [[p5GreyFringe,"greySparse"],[p5GreyCore,"greyDense"],[p5GreenFringeL,"greenSparse"],
    [p5GreenCoreL,"greenDense"],[p5GreenFringeR,"greenSparse"],[p5GreenCoreR,"greenDense"],[p5YellowGreenL,"yellowMid"],
    [p5YellowGreyL,"yellowDense"],[p5YellowDiag,"yellowDense"],[p5YellowR,"yellowMid"],[p5YellowRTop,"yellowSparse"],
    [p5YellowGreenR,"yellowSparse"]]},
  {ticks: p6Ticks, red: p6Red, layers: [[p6GreyFringe,"greySparse"],[p6GreyCore,"greyDense"],[p6GreenMid,"greenMid"],
    [p6GreenFringe,"greenSparse"],[p6GreenCore,"greenDense"],[p6YellowAll,"yellowSparse"],[p6YellowGrey,"yellowMid"],
    [p6YellowGreenMid,"yellowSparse"]]},
  {ticks: p7Ticks, red: p7Red, layers: [[p7GreyFringeL,"greySparse"],[p7GreyCoreL,"greyDense"],[p7GreyFringeR,"greySparse"],
    [p7GreyCoreR,"greyDense"],[p7GreenFringeL,"greenSparse"],[p7GreenFringeR,"greenSparse"],[p7GreenCoreL,"greenMid"],
    [p7GreenR,"greenMid"],[p7GreenSolid,"greenSolid"],[p7YellowGreen,"yellowMid"],[p7YellowGreenTop,"yellowSparse"],
    [p7YellowGreyLow,"yellowSparse"],[p7YellowGrey,"yellowMid"],[p7YellowGrey,"yellowDense"]]}
];

var W = 262.5, H = 524;
var svg = d3.select("#chart");
var defs = svg.append("defs");

Object.entries(dotStyles).forEach(([key, st], k) => {
  var pat = defs.append("pattern")
    .attr("id", "pat-" + key)
    .attr("patternUnits", "userSpaceOnUse")
    .attr("width", st.size).attr("height", st.size)
    .attr("patternTransform", `translate(${k * 3.7},${k * 5.3})`);
  texture.forEach(([u, v]) => {
    [-1, 0, 1].forEach(i => [-1, 0, 1].forEach(j => {
      pat.append("circle")
        .attr("cx", (u + i) * st.size).attr("cy", (v + j) * st.size)
        .attr("r", st.r).attr("fill", st.color);
    }));
  });
});

svg.append("text")
  .attr("x", 896.5).attr("y", 22.7)
  .attr("text-anchor", "middle")
  .attr("font-size", "16.7px")
  .text(figTitle);

function pad5(e) {
  var d = (e[1] - e[0]) * 0.05;
  return [e[0] - d, e[1] + d];
}

panels.forEach((pn, i) => {
  var left = 75.5 + (i % 6) * 288.6;
  var top = i < 6 ? 90 : 798;
  var g = svg.append("g").attr("transform", `translate(${left},${top})`);

  var xs = pn.red.map(d => d[0]).concat(pn.layers.flatMap(l => l[0].map(d => d[0])));
  var ys = pn.red.map(d => d[1]).concat(pn.layers.flatMap(l => l[0].flatMap(d => [d[1], d[2]])));
  var x = d3.scaleLinear().domain(pad5(d3.extent(xs))).range([0, W]);
  var y = d3.scaleLinear().domain(pad5(d3.extent(ys))).range([H, 0]);

  var area = d3.area().x(d => x(d[0])).y0(d => y(d[1])).y1(d => y(d[2]));
  pn.layers.forEach(([band, style]) => {
    g.append("path")
      .datum(band)
      .attr("d", area)
      .attr("fill", style === "white" ? "#fff" : `url(#pat-${style})`);
  });

  g.selectAll("circle.red")
    .data(pn.red)
    .join("circle")
    .attr("class", "red")
    .attr("cx", d => x(d[0]))
    .attr("cy", d => y(d[1]))
    .attr("r", 3.1)
    .attr("fill", "#ff0000")
    .attr("stroke", "#000")
    .attr("stroke-width", 1);

  // axes
  var xAxis = d3.axisBottom(x)
    .tickValues(pn.ticks.map(Number))
    .tickFormat((d, k) => pn.ticks[k])
    .tickSize(4.9).tickPadding(7.2);
  var gx = g.append("g").attr("transform", `translate(0,${H})`).call(xAxis);
  var yAxis = d3.axisLeft(y)
    .tickValues(cueTicks.map(Number))
    .tickFormat((d, k) => cueTicks[k])
    .tickSize(4.9).tickPadding(6.5);
  var gy = g.append("g").call(yAxis);
  [gx, gy].forEach(a => {
    a.attr("font-family", "DejaVu Sans").attr("font-size", 13.9);
    a.select(".domain").remove();
    a.selectAll("line").attr("stroke", "#000").attr("stroke-width", 1.1);
    a.selectAll("text").attr("fill", "#000");
  });

  g.append("rect")
    .attr("width", W).attr("height", H)
    .attr("fill", "none").attr("stroke", "#000").attr("stroke-width", 1.1);

  g.append("text")
    .attr("x", W / 2).attr("y", H + 42.5)
    .attr("text-anchor", "middle")
    .attr("font-size", "15.3px")
    .text(xLabels[i]);

  if (i % 6 === 0) {
    svg.append("text")
      .attr("transform", `translate(25.7,${top + H / 2}) rotate(-90)`)
      .attr("text-anchor", "middle")
      .attr("font-size", "19.4px")
      .text("CUE");
  }
});
</script>
</body>
</html>
